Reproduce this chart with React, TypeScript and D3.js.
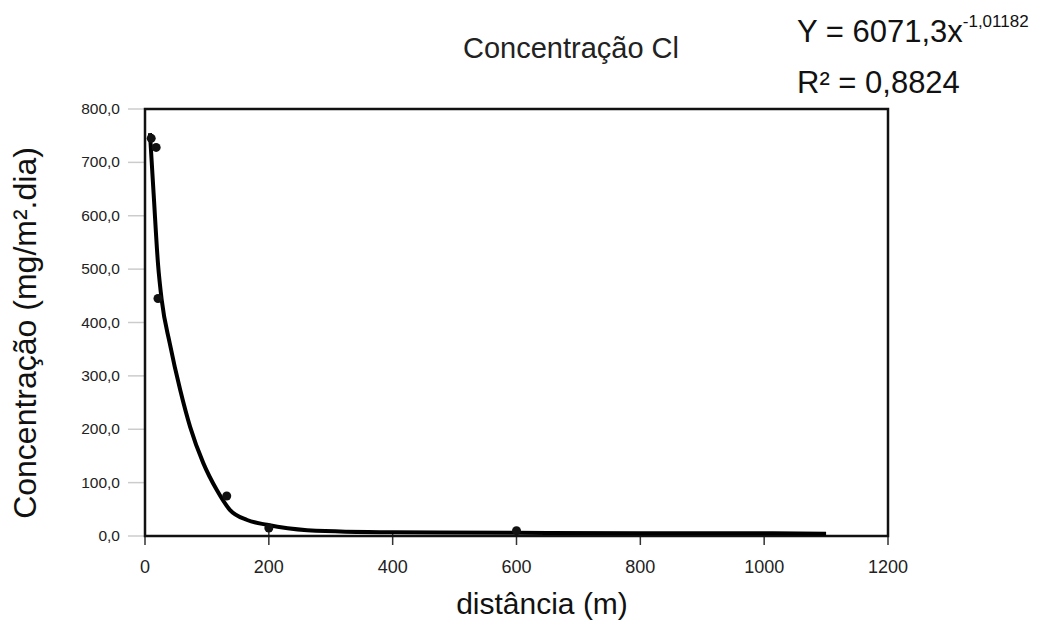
import React from "react";
import * as d3 from "d3";

// observed points (distância m, concentração mg/m².dia)
const pointX = [10, 18, 21, 132, 200, 600];
const pointY = [745, 728, 445, 75, 15, 10];

// fitted curve
const curveX = [8, 14, 21, 27, 40, 57, 73, 94, 116, 137, 165, 197, 262, 400, 600, 800, 1000, 1100];
const curveY = [755, 640, 510, 442, 361, 273, 204, 137, 86, 49, 30, 21, 11, 7, 6, 5, 5, 4];

const xTicks = [0, 200, 400, 600, 800, 1000, 1200];
const yTicks = [0, 100, 200, 300, 400, 500, 600, 700, 800];

const W = 1055;
const H = 625;
const font = "'Liberation Sans', Arial, sans-serif";

export default function App() {
  const x = d3.scaleLinear().domain([0, 1200]).range([145, 888]);
  const y = d3.scaleLinear().domain([0, 800]).range([536, 109]);

  const line = d3
    .line<number>()
    .x((d, i) => x(curveX[i]))
    .y((d) => y(d))
    .curve(d3.curveMonotoneX);

  const fmtY = (v: number) => v.toFixed(1).replace(".", ",");

  return (
    <svg
      width={W}
      height={H}
      style={{ position: "absolute", left: 0, top: 0, background: "#fff" }}
      fontFamily={font}
    >
      {/* title */}
      <text x={571} y={58} textAnchor="middle" fontSize={29} fill="#222">
        Concentração Cl
      </text>

      {/* equation */}
      <text x={797} y={42} fontSize={31} fill="#111">
        Y = 6071,3x
        <tspan dy={-15} fontSize={17}>-1,01182</tspan>
      </text>
      <text x={797} y={93} fontSize={31} fill="#111">
        R² = 0,8824
      </text>

      {/* y ticks */}
      {yTicks.map((t) => (
        <g key={t}>
          <line x1={128} x2={145} y1={y(t)} y2={y(t)} stroke="#ccc" strokeWidth={1.5} />
          <text x={120} y={y(t) + 5} textAnchor="end" fontSize={15.5} fill="#222">
            {fmtY(t)}
          </text>
        </g>
      ))}

      {/* x ticks */}
      {xTicks.map((t) => (
        <g key={t}>
          <line x1={x(t)} x2={x(t)} y1={532} y2={545} stroke="#333" strokeWidth={1.5} />
          <text x={x(t)} y={573} textAnchor="middle" fontSize={18} fill="#222">
            {t}
          </text>
        </g>
      ))}

      {/* frame */}
      <rect
        x={x(0)}
        y={y(800)}
        width={x(1200) - x(0)}
        height={y(0) - y(800)}
        fill="none"
        stroke="#111"
        strokeWidth={2.5}
      />

      {/* curve */}
      <path d={line(curveY) || ""} fill="none" stroke="#000" strokeWidth={4} />

      {/* points */}
      {pointX.map((px, i) => (
        <circle key={i} cx={x(px)} cy={y(pointY[i])} r={4.5} fill="#111" />
      ))}

      {/* axis labels */}
      <text x={542} y={614} textAnchor="middle" fontSize={30} fill="#111">
        distância (m)
      </text>
      <text
        transform={`translate(36, ${333}) rotate(-90)`}
        textAnchor="middle"
        fontSize={32}
        fill="#111"
      >
        Concentração (mg/m².dia)
      </text>
    </svg>
  );
}
